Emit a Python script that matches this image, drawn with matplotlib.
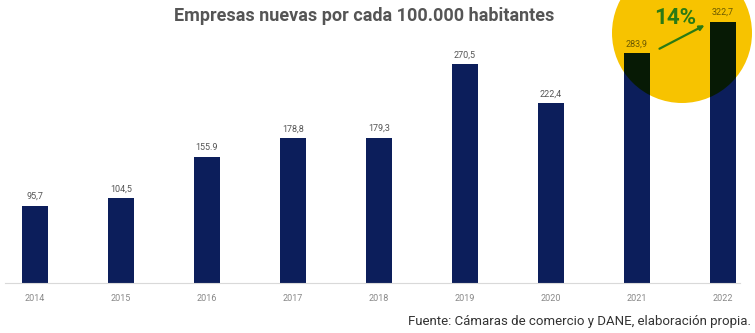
import numpy as np
import matplotlib.pyplot as plt
from matplotlib.patches import Circle, FancyArrowPatch
from matplotlib.transforms import IdentityTransform

plt.rcParams['font.family'] = ['Roboto', 'DejaVu Sans']

years = ['2014', '2015', '2016', '2017', '2018', '2019', '2020', '2021', '2022']
values = [95.7, 104.5, 155.9, 178.8, 179.3, 270.5, 222.4, 283.9, 322.7]
labels = ['95,7', '104,5', '155.9', '178,8', '179,3', '270,5', '222,4', '283,9', '322,7']

W, H = 755, 333
fig = plt.figure(figsize=(W / 100, H / 100), dpi=100)
ax = fig.add_axes([5 / W, 50 / H, 735 / W, 273 / H])

x = np.arange(len(years))
navy = '#0c1e5b'

# yellow highlight circle (pixel coordinates), behind the axes
circ = Circle((682, H - 33), 70, transform=IdentityTransform(),
              facecolor='#f7c300', edgecolor='none', zorder=-1)
fig.patches.append(circ)

bars = ax.bar(x, values, width=0.31, color=navy, zorder=2)
# part of the bars under the circle look darker (multiply effect)
dark = ax.bar(x[-2:], values[-2:], width=0.31, color='#071a05', zorder=3)
for b in dark:
    b.set_clip_path(circ)

for i, (v, lab) in enumerate(zip(values, labels)):
    col = '#6b5a00' if i >= 7 else '#555555'
    ax.text(i, v + 6, lab, ha='center', va='bottom', fontsize=6.5, color=col, zorder=4)

ax.set_xlim(-0.349, 8.198)
ax.set_ylim(0, 337.5)
ax.set_xticks(x)
ax.set_xticklabels(years, fontsize=6.5, color='#888888')
ax.tick_params(axis='x', length=0, pad=8)
ax.set_yticks([])
for s in ['top', 'right', 'left']:
    ax.spines[s].set_visible(False)
ax.spines['bottom'].set_color('#d9d9d9')
ax.spines['bottom'].set_linewidth(0.8)
ax.patch.set_alpha(0)

# growth arrow and percentage
arr = FancyArrowPatch((657, H - 50), (707, H - 24), transform=IdentityTransform(),
                      arrowstyle='-|>', mutation_scale=7, color='#2a7a14',
                      linewidth=1.6, zorder=5)
fig.patches.append(arr)
fig.text(675 / W, 1 - 18 / H, '14%', ha='center', va='center', fontsize=16,
         fontweight='bold', color='#2a7a14', zorder=5)

fig.text(364 / W, 1 - 16 / H, 'Empresas nuevas por cada 100.000 habitantes',
         ha='center', va='center', fontsize=13, fontweight='bold', color='#555555')
fig.text(751 / W, 1 - 322 / H, 'Fuente: Cámaras de comercio y DANE, elaboración propia.',
         ha='right', va='center', fontsize=9.5, color='#333333')

fig.savefig('out.png', dpi=100)
